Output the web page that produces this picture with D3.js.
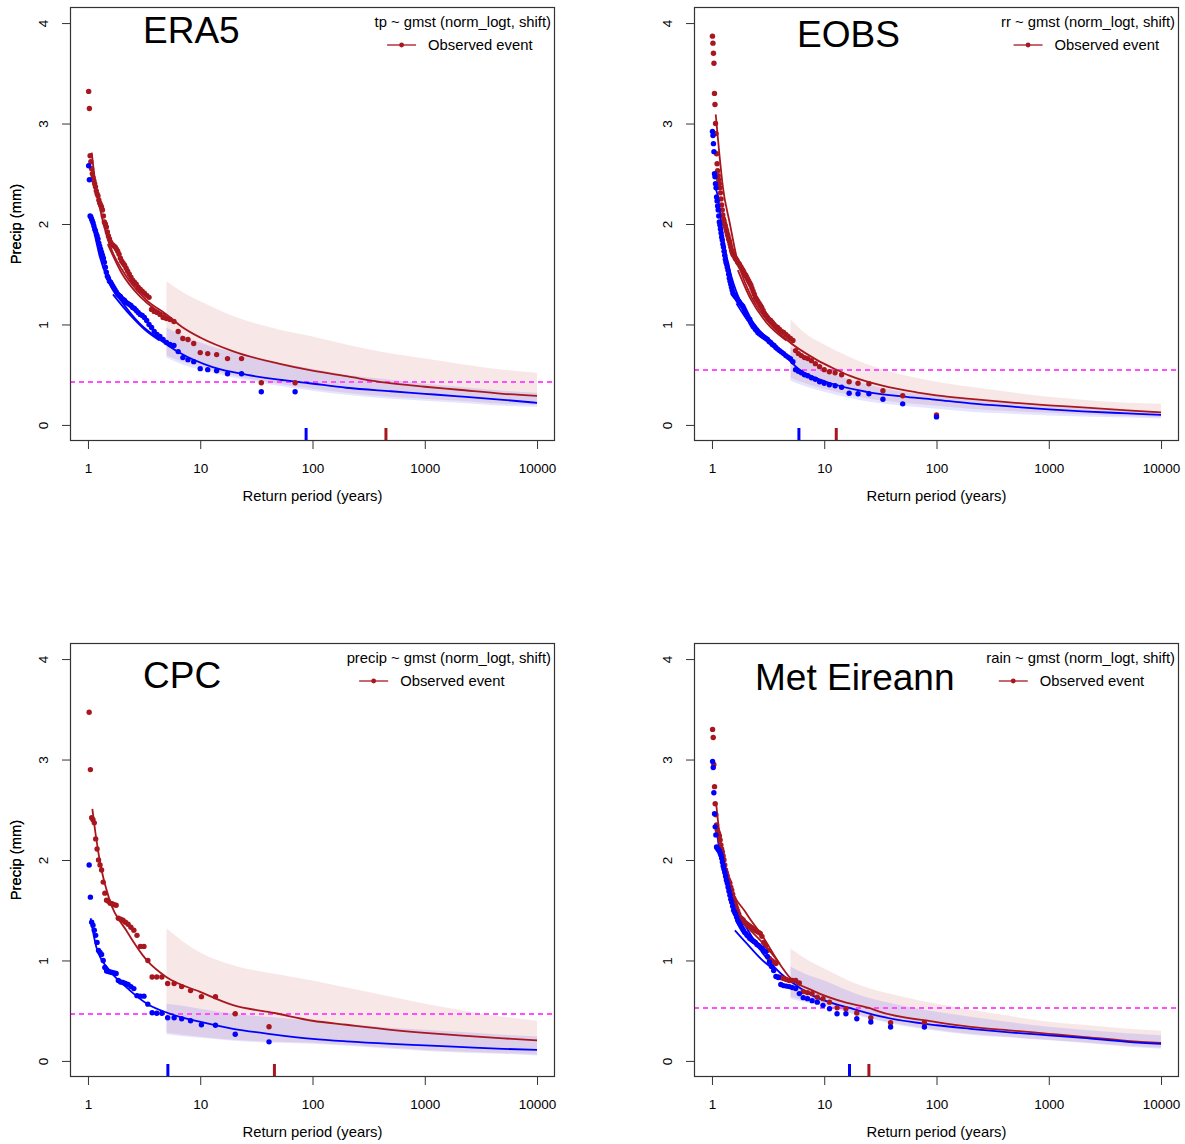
<!DOCTYPE html>
<html>
<head>
<meta charset="utf-8">
<script src="https://cdn.jsdelivr.net/npm/d3@7"></script>
<style>
  body { margin: 0; background: #fff; }
  svg text { font-family: "Liberation Sans", Arial, Helvetica, sans-serif; fill: #000; }
</style>
</head>
<body>
<svg id="fig" width="1185" height="1144"></svg>
<script>
// ---------- Dataset labels ----------
const datasetNames = ["ERA5", "EOBS", "CPC", "Met Eireann"];
const modelLabels = [
  "tp ~ gmst (norm_logt, shift)",
  "rr ~ gmst (norm_logt, shift)",
  "precip ~ gmst (norm_logt, shift)",
  "rain ~ gmst (norm_logt, shift)"
];
const legendEntry = "Observed event";
const xTickValues = [1, 10, 100, 1000, 10000];
const yTickValues = [0, 1, 2, 3, 4];
const xTitle = "Return period (years)";
const yTitle = "Precip (mm)";

// ---------- Observed values, sorted ascending (driest first) ----------
// return period of the k-th driest value = (n + 1) / k
const era5Red = [
  0.42,0.42,0.66,0.66,0.70,0.71,0.72,0.81,0.85,0.86,
  0.93,1.03,1.05,1.06,1.07,1.10,1.12,1.13,1.15,1.27,
  1.29,1.31,1.33,1.35,1.37,1.40,1.42,1.44,1.47,1.50,
  1.53,1.56,1.59,1.61,1.63,1.66,1.70,1.73,1.75,1.77,
  1.78,1.79,1.80,1.82,1.85,1.88,1.92,1.97,2.00,2.02,
  2.08,2.14,2.17,2.19,2.21,2.24,2.28,2.30,2.33,2.37,
  2.40,2.43,2.46,2.50,2.55,2.62,2.68,3.15,3.32
];
const era5Blue = [
  0.33,0.33,0.51,0.51,0.54,0.55,0.56,0.63,0.65,0.67,
  0.73,0.79,0.80,0.82,0.85,0.88,0.90,0.93,0.97,1.00,
  1.04,1.07,1.09,1.10,1.12,1.14,1.16,1.17,1.19,1.20,
  1.21,1.22,1.24,1.25,1.26,1.28,1.29,1.30,1.32,1.34,
  1.36,1.38,1.40,1.42,1.43,1.46,1.48,1.52,1.57,1.62,
  1.66,1.69,1.72,1.75,1.78,1.81,1.85,1.88,1.90,1.93,
  1.95,1.98,2.01,2.03,2.05,2.07,2.08,2.44,2.58
];
const eobsRed = [
  0.10,0.29,0.34,0.41,0.415,0.43,0.50,0.52,0.53,0.55,
  0.58,0.61,0.64,0.66,0.67,0.69,0.71,0.74,0.84,0.86,
  0.88,0.90,0.92,0.93,0.95,0.97,0.98,1.00,1.02,1.04,
  1.05,1.07,1.09,1.11,1.14,1.17,1.19,1.21,1.23,1.25,
  1.27,1.30,1.33,1.36,1.39,1.41,1.43,1.45,1.47,1.49,
  1.50,1.52,1.54,1.55,1.57,1.58,1.60,1.61,1.62,1.64,
  1.65,1.66,1.68,1.69,1.70,1.72,1.74,1.77,1.80,1.83,
  1.85,1.88,1.90,1.93,1.95,1.98,2.00,2.03,2.05,2.09,
  2.14,2.19,2.25,2.31,2.36,2.40,2.44,2.48,2.53,2.60,
  2.70,2.90,3.00,3.19,3.30,3.60,3.70,3.80,3.87
];
const eobsBlue = [
  0.08,0.21,0.255,0.31,0.31,0.315,0.375,0.39,0.40,0.415,
  0.43,0.455,0.47,0.49,0.50,0.52,0.535,0.55,0.63,0.66,
  0.675,0.69,0.71,0.725,0.74,0.755,0.77,0.79,0.80,0.82,
  0.83,0.85,0.86,0.87,0.88,0.89,0.90,0.91,0.92,0.94,
  0.95,0.97,0.98,1.00,1.02,1.05,1.06,1.08,1.10,1.12,
  1.14,1.16,1.18,1.19,1.20,1.21,1.225,1.235,1.245,1.26,
  1.27,1.28,1.29,1.30,1.31,1.34,1.37,1.40,1.43,1.46,
  1.50,1.54,1.57,1.60,1.62,1.65,1.69,1.73,1.77,1.80,
  1.84,1.87,1.91,1.95,1.99,2.02,2.08,2.14,2.18,2.23,
  2.27,2.36,2.40,2.47,2.50,2.72,2.80,2.88,2.92
];
const cpcRed = [
  0.34,0.47,0.64,0.64,0.70,0.74,0.77,0.77,0.835,0.835,
  0.835,1.00,1.14,1.14,1.25,1.30,1.33,1.36,1.38,1.40,
  1.41,1.42,1.55,1.555,1.565,1.57,1.59,1.60,1.67,1.78,
  1.90,1.95,2.00,2.11,2.21,2.37,2.40,2.42,2.90,3.47
];
const cpcBlue = [
  0.19,0.265,0.355,0.36,0.40,0.42,0.43,0.43,0.475,0.475,
  0.48,0.565,0.645,0.645,0.65,0.72,0.74,0.76,0.77,0.78,
  0.785,0.80,0.87,0.875,0.88,0.885,0.89,0.895,0.93,1.00,
  1.06,1.08,1.10,1.18,1.25,1.30,1.35,1.38,1.63,1.95
];
const metRed = [
  0.38,0.38,0.43,0.477,0.52,0.53,0.585,0.62,0.635,0.67,
  0.68,0.69,0.775,0.80,0.80,0.80,0.81,0.82,0.83,0.835,
  0.97,0.985,1.00,1.02,1.10,1.15,1.18,1.24,1.27,1.28,
  1.29,1.30,1.31,1.32,1.33,1.34,1.35,1.36,1.37,1.38,
  1.40,1.41,1.42,1.43,1.46,1.49,1.52,1.55,1.58,1.62,
  1.66,1.70,1.73,1.77,1.79,1.81,1.84,1.87,1.90,1.95,
  2.00,2.04,2.08,2.11,2.15,2.20,2.24,2.26,2.28,2.30,
  2.35,2.45,2.56,2.73,2.95,3.22,3.30
];
const metBlue = [
  0.337,0.337,0.387,0.42,0.47,0.47,0.52,0.553,0.585,0.60,
  0.62,0.63,0.67,0.72,0.73,0.74,0.745,0.75,0.76,0.83,
  0.84,0.90,0.94,0.985,1.04,1.085,1.10,1.12,1.135,1.15,
  1.16,1.18,1.19,1.20,1.21,1.22,1.24,1.25,1.27,1.28,
  1.30,1.32,1.34,1.36,1.38,1.40,1.43,1.46,1.48,1.50,
  1.54,1.58,1.61,1.65,1.69,1.73,1.77,1.80,1.84,1.88,
  1.91,1.94,1.98,2.02,2.05,2.07,2.09,2.10,2.11,2.12,
  2.13,2.25,2.33,2.46,2.67,2.92,2.98
];

// ---------- Fitted return-level curves: [return period, precip] ----------
const era5RedFit = [[1.08,2.71],[1.15,2.45],[1.27,2.17],[1.5,1.85],[1.67,1.71],[2,1.55],[2.35,1.43],[3.3,1.245],[5,1.10],[7,0.97],[10,0.87],[20,0.73],[50,0.61],[100,0.54],[200,0.485],[451,0.42],[1000,0.38],[2000,0.35],[5000,0.31],[10000,0.29]];
const era5BlueFit = [[1.08,2.09],[1.11,2.0],[1.27,1.68],[1.56,1.41],[2.05,1.21],[2.88,1.01],[4.35,0.85],[6.5,0.72],[12.9,0.575],[25.6,0.50],[50,0.45],[87.7,0.42],[200,0.37],[500,0.335],[1000,0.31],[2000,0.285],[5000,0.25],[10000,0.22]];
const era5RedFit2 = [[1.5,1.80],[2,1.51],[2.9,1.28],[4,1.15],[5,1.09]];
const era5BlueFit2 = [[1.67,1.30],[2.35,1.10],[3.2,0.95],[4.35,0.84]];

const eobsRedFit = [[1.08,3.09],[1.17,2.67],[1.25,2.37],[1.44,2.01],[1.65,1.68],[2.17,1.31],[3.05,1.05],[4.6,0.85],[8.5,0.65],[12.8,0.55],[16.8,0.49],[33,0.39],[66,0.325],[100,0.295],[200,0.26],[500,0.22],[1000,0.195],[2000,0.175],[5000,0.145],[10000,0.125]];
const eobsBlueFit = [[1.09,2.34],[1.13,2.27],[1.25,1.88],[1.44,1.54],[1.76,1.245],[2.48,0.98],[3.74,0.78],[5.95,0.555],[10.4,0.43],[23.7,0.33],[54,0.28],[100,0.25],[200,0.215],[500,0.18],[1000,0.155],[2000,0.135],[5000,0.115],[10000,0.10]];
const eobsRedFit2 = [[1.7,1.54],[2.17,1.27],[3.05,1.02],[4.6,0.84]];
const eobsBlueFit2 = [[1.65,1.21],[2.2,1.0],[3.0,0.85],[4.0,0.73],[5.0,0.64]];

const cpcRedFit = [[1.094,2.51],[1.19,2.20],[1.27,2.0],[1.56,1.60],[2.19,1.30],[3.35,1.0],[4.98,0.835],[9.85,0.69],[19.6,0.555],[45.8,0.477],[100,0.40],[200,0.36],[500,0.31],[1000,0.28],[2000,0.255],[5000,0.225],[10000,0.205]];
const cpcBlueFit = [[1.057,1.42],[1.19,1.13],[1.56,0.90],[2.19,0.735],[3.35,0.57],[5.15,0.477],[9.85,0.39],[19.6,0.32],[44,0.265],[100,0.22],[200,0.195],[500,0.17],[1000,0.155],[2000,0.14],[5000,0.12],[10000,0.11]];
const cpcRedFit2 = [];
const cpcBlueFit2 = [];

const metRedFit = [[1.09,2.56],[1.2,2.15],[1.4,1.80],[2.02,1.47],[2.84,1.235],[4.1,0.95],[4.9,0.835],[7.9,0.70],[15.7,0.58],[25,0.527],[31,0.49],[100,0.387],[200,0.34],[500,0.30],[1000,0.27],[2000,0.24],[5000,0.20],[10000,0.18]];
const metBlueFit = [[1.09,2.33],[1.2,2.0],[1.44,1.63],[2.02,1.33],[2.84,1.07],[4.1,0.87],[4.9,0.80],[7.9,0.65],[16.8,0.527],[31,0.445],[100,0.355],[200,0.32],[500,0.28],[1000,0.255],[2000,0.23],[5000,0.19],[10000,0.17]];
const metRedFit2 = [[1.65,1.43],[2.2,1.30],[3.05,1.135],[4.0,0.97]];
const metBlueFit2 = [[1.6,1.30],[2.0,1.18],[2.93,0.985],[3.5,0.92]];

// ---------- Confidence bands on a shared return-period grid ----------
const bandRp = [5, 7, 10, 20, 50, 100, 200, 500, 1000, 2000, 5000, 10000];
const era5RedHi  = [1.43,1.32,1.23,1.08,0.95,0.88,0.80,0.71,0.66,0.61,0.55,0.52];
const era5RedLo  = [0.69,0.63,0.58,0.49,0.41,0.36,0.32,0.28,0.26,0.24,0.21,0.20];
const era5BlueHi = [0.97,0.89,0.82,0.72,0.62,0.56,0.50,0.45,0.41,0.38,0.34,0.32];
const era5BlueLo = [0.67,0.60,0.55,0.47,0.39,0.34,0.30,0.26,0.24,0.22,0.19,0.18];

const eobsRedHi  = [1.05,0.90,0.80,0.64,0.50,0.43,0.38,0.32,0.28,0.25,0.22,0.21];
const eobsRedLo  = [0.47,0.41,0.36,0.28,0.22,0.19,0.16,0.135,0.12,0.105,0.09,0.08];
const eobsBlueHi = [0.78,0.65,0.55,0.43,0.33,0.29,0.25,0.21,0.185,0.165,0.14,0.13];
const eobsBlueLo = [0.44,0.38,0.33,0.25,0.19,0.16,0.13,0.11,0.095,0.085,0.075,0.065];

const cpcRedHi  = [1.32,1.19,1.08,0.95,0.86,0.80,0.73,0.64,0.57,0.51,0.44,0.40];
const cpcRedLo  = [0.28,0.26,0.24,0.21,0.19,0.18,0.16,0.13,0.11,0.095,0.08,0.065];
const cpcBlueHi = [0.57,0.55,0.52,0.47,0.43,0.40,0.37,0.33,0.31,0.29,0.26,0.245];
const cpcBlueLo = [0.265,0.245,0.23,0.20,0.18,0.17,0.15,0.12,0.10,0.085,0.07,0.055];

const metRedHi  = [1.12,1.01,0.92,0.76,0.64,0.57,0.51,0.44,0.39,0.36,0.32,0.30];
const metRedLo  = [0.64,0.60,0.56,0.46,0.36,0.31,0.27,0.235,0.21,0.185,0.15,0.13];
const metBlueHi = [0.94,0.86,0.80,0.66,0.55,0.49,0.44,0.38,0.34,0.31,0.275,0.255];
const metBlueLo = [0.62,0.58,0.55,0.45,0.35,0.30,0.26,0.23,0.205,0.18,0.14,0.12];

// ---------- Observed event magnitude and its return periods ----------
const eventValues = [0.42, 0.55, 0.477, 0.527];
const eventRpBlue = [87.7, 5.95, 5.15, 16.8];
const eventRpRed  = [451, 12.8, 45.8, 25];

// ---------- Assemble panels ----------
const panels = [
  { redObs: era5Red, blueObs: era5Blue, redFit: era5RedFit, blueFit: era5BlueFit, redFit2: era5RedFit2, blueFit2: era5BlueFit2,
    redHi: era5RedHi, redLo: era5RedLo, blueHi: era5BlueHi, blueLo: era5BlueLo },
  { redObs: eobsRed, blueObs: eobsBlue, redFit: eobsRedFit, blueFit: eobsBlueFit, redFit2: eobsRedFit2, blueFit2: eobsBlueFit2,
    redHi: eobsRedHi, redLo: eobsRedLo, blueHi: eobsBlueHi, blueLo: eobsBlueLo },
  { redObs: cpcRed, blueObs: cpcBlue, redFit: cpcRedFit, blueFit: cpcBlueFit, redFit2: cpcRedFit2, blueFit2: cpcBlueFit2,
    redHi: cpcRedHi, redLo: cpcRedLo, blueHi: cpcBlueHi, blueLo: cpcBlueLo },
  { redObs: metRed, blueObs: metBlue, redFit: metRedFit, blueFit: metBlueFit, redFit2: metRedFit2, blueFit2: metBlueFit2,
    redHi: metRedHi, redLo: metRedLo, blueHi: metBlueHi, blueLo: metBlueLo }
];

// plot-region boxes and title anchors
const layout = [
  { x0: 70,  x1: 555,  y0: 7,   y1: 441,  tx: 143, ty: 43 },
  { x0: 694, x1: 1179, y0: 7,   y1: 441,  tx: 797, ty: 47 },
  { x0: 70,  x1: 555,  y0: 643, y1: 1077, tx: 143, ty: 688 },
  { x0: 694, x1: 1179, y0: 643, y1: 1077, tx: 755, ty: 690 }
];

const RED = "#a8171f";
const BLUE = "#0000ff";
const MAGENTA = "#ff4dff";
const FONT = '"Liberation Sans", Arial, Helvetica, sans-serif';
const svg = d3.select("#fig");

panels.forEach((p, i) => {
  const L = layout[i];
  const g = svg.append("g");
  const x = d3.scaleLog().domain([Math.pow(10, -0.16), Math.pow(10, 4.16)]).range([L.x0, L.x1]);
  const y = d3.scaleLinear().domain([-0.16, 4.16]).range([L.y1, L.y0]);

  const clipId = "clip" + i;
  g.append("clipPath").attr("id", clipId).append("rect")
    .attr("x", L.x0).attr("y", L.y0).attr("width", L.x1 - L.x0).attr("height", L.y1 - L.y0);
  const plot = g.append("g").attr("clip-path", `url(#${clipId})`);

  // confidence bands
  const area = d3.area()
    .x(d => x(d[0])).y0(d => y(d[1])).y1(d => y(d[2]))
    .curve(d3.curveMonotoneX);
  plot.append("path")
    .datum(bandRp.map((r, k) => [r, p.redLo[k], p.redHi[k]]))
    .attr("d", area).attr("fill", "rgba(178,34,34,0.11)");
  plot.append("path")
    .datum(bandRp.map((r, k) => [r, p.blueLo[k], p.blueHi[k]]))
    .attr("d", area).attr("fill", "rgba(0,0,255,0.1)");

  // observed event level: a 2px dash aligned on an even pixel row
  const ey = 2 * Math.round(y(eventValues[i]) / 2);
  plot.append("line")
    .attr("x1", L.x0).attr("x2", L.x1)
    .attr("y1", ey).attr("y2", ey)
    .attr("stroke", MAGENTA).attr("stroke-width", 2).attr("stroke-dasharray", "5,4");

  // fitted curves
  const line = d3.line().x(d => x(d[0])).y(d => y(d[1])).curve(d3.curveMonotoneX);
  [[p.redFit, RED], [p.blueFit, BLUE], [p.redFit2, RED], [p.blueFit2, BLUE]].forEach(([data, col]) => {
    if (!data.length) return;
    plot.append("path").datum(data).attr("d", line)
      .attr("fill", "none").attr("stroke", col).attr("stroke-width", 1.8);
  });

  // empirical points
  [[p.redObs, RED], [p.blueObs, BLUE]].forEach(([vals, col]) => {
    const n = vals.length;
    plot.append("g").selectAll("circle").data(vals).join("circle")
      .attr("cx", (v, k) => x((n + 1) / (k + 1)))
      .attr("cy", v => y(v))
      .attr("r", 2.7)
      .attr("fill", col);
  });

  // rug marks for the event's return periods
  [[eventRpRed[i], RED], [eventRpBlue[i], BLUE]].forEach(([rp, col]) => {
    g.append("line")
      .attr("x1", x(rp)).attr("x2", x(rp))
      .attr("y1", L.y1 - 0.5).attr("y2", L.y1 - 13)
      .attr("stroke", col).attr("stroke-width", 3);
  });

  // axes
  const xAxis = d3.axisBottom(x).tickValues(xTickValues).tickFormat(d3.format("d"))
    .tickSize(8).tickPadding(14.4);
  const gx = g.append("g").attr("transform", `translate(0,${L.y1})`).call(xAxis);
  gx.select(".domain").remove();
  gx.selectAll("line").attr("stroke", "#333");
  gx.selectAll("text").attr("font-size", "13.5px").attr("fill", "#000").style("font-family", FONT);

  const yAxis = d3.axisLeft(y).tickValues(yTickValues).tickFormat(d3.format("d")).tickSize(8);
  const gy = g.append("g").attr("transform", `translate(${L.x0},0)`).call(yAxis);
  gy.select(".domain").remove();
  gy.selectAll("line").attr("stroke", "#333");
  gy.selectAll("text")
    .attr("x", null).attr("dy", null)
    .attr("text-anchor", "middle")
    .attr("transform", "translate(-22,0) rotate(-90)")
    .attr("font-size", "13.5px").attr("fill", "#000")
    .style("font-family", FONT);

  // frame
  g.append("rect")
    .attr("x", L.x0 + 0.5).attr("y", L.y0 + 0.5)
    .attr("width", L.x1 - L.x0 - 1).attr("height", L.y1 - L.y0 - 1)
    .attr("fill", "none").attr("stroke", "#333").attr("stroke-width", 1.2);

  // axis titles
  g.append("text")
    .attr("x", x(100)).attr("y", L.y1 + 60)
    .attr("text-anchor", "middle").attr("font-size", "14.8px")
    .text(xTitle);
  g.append("text")
    .attr("transform", `translate(21,${(L.y0 + L.y1) / 2}) rotate(-90)`)
    .attr("text-anchor", "middle").attr("font-size", "14.8px")
    .text(yTitle);

  // dataset name
  g.append("text")
    .attr("x", L.tx).attr("y", L.ty)
    .attr("font-size", "37px").attr("fill", "#111")
    .text(datasetNames[i]);

  // legend
  const right = L.x1 - 4;
  const lt = g.append("text")
    .attr("x", right).attr("y", L.y0 + 20)
    .attr("text-anchor", "end").attr("font-size", "14.8px")
    .text(modelLabels[i]);
  const titleW = lt.node().getComputedTextLength();
  const ls = right - titleW + 12.5;
  const ly = L.y0 + 38;
  g.append("line")
    .attr("x1", ls).attr("x2", ls + 29).attr("y1", ly).attr("y2", ly)
    .attr("stroke", RED).attr("stroke-width", 1.3);
  g.append("circle").attr("cx", ls + 14.5).attr("cy", ly).attr("r", 2.4).attr("fill", RED);
  g.append("text")
    .attr("x", ls + 41).attr("y", L.y0 + 43)
    .attr("font-size", "14.8px")
    .text(legendEntry);
});
</script>
</body>
</html>
